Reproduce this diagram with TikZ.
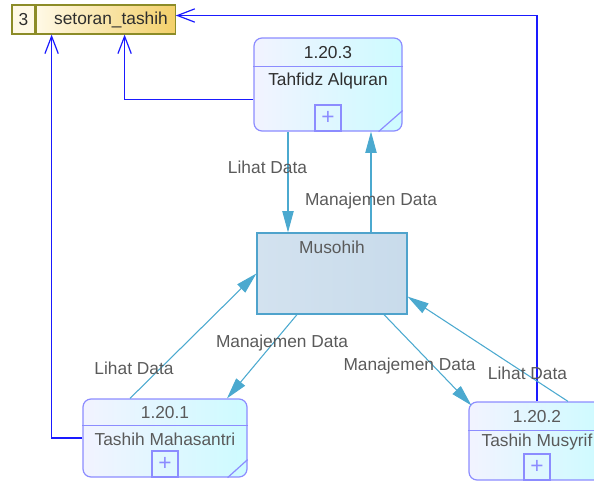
\documentclass[tikz,border=0pt]{standalone}
\usepackage{fontspec}
\setmainfont{Liberation Sans}
\usepackage{tikz}
\usepackage{xcolor}
\usetikzlibrary{arrows.meta,positioning,calc}
\definecolor{flow}{HTML}{1A1AFF}
\definecolor{dflow}{HTML}{4BA9CF}
\definecolor{procline}{HTML}{8C8CFF}
\definecolor{procA}{HTML}{F2F3FF}
\definecolor{procB}{HTML}{CDFBFF}
\definecolor{entline}{HTML}{4FA3CC}
\definecolor{entA}{HTML}{D3E2EF}
\definecolor{entB}{HTML}{C8DBEB}
\definecolor{storeline}{HTML}{8C8C28}
\definecolor{storeA}{HTML}{FFF9E6}
\definecolor{storeB}{HTML}{F3D06A}
\definecolor{ink}{HTML}{2E2E2E}
\definecolor{muted}{HTML}{5A5A5A}
\tikzset{
  proc/.style={draw=procline, left color=procA, right color=procB, rounded corners=6pt,
               line width=0.9pt, inner sep=0pt},
  procrule/.style={draw=procline, line width=0.9pt},
  plusbox/.style={draw=procline, line width=0.9pt, minimum width=19.5pt, minimum height=19.5pt,
                  inner sep=0pt, text=procline, font=\fontsize{17}{17}\selectfont},
  ent/.style={draw=entline, left color=entA, right color=entB, line width=0.9pt, inner sep=0pt},
  store/.style={draw=storeline, left color=storeA, right color=storeB, line width=0.9pt,
                inner sep=0pt, font=\fontsize{13}{15}\selectfont, text=ink},
  storeno/.style={draw=storeline, fill=storeA, line width=0.9pt,
                  inner sep=0pt, font=\fontsize{13}{15}\selectfont, text=ink},
  lbl/.style={font=\fontsize{13}{15}\selectfont, text=muted, inner sep=0pt},
  storeflow/.style={-{Straight Barb[length=13pt,width=10pt]}, draw=flow, line width=0.9pt},
  dataflow/.style={-{Triangle[length=16pt,width=8.5pt]}, draw=dflow, line width=0.8pt}
}

\begin{document}
\begin{tikzpicture}[x=0.75pt,y=-0.75pt]
        \useasboundingbox (0,0) rectangle (594,482);
        \clip (0,0) rectangle (594,482);

        % data store
        \node[storeno,minimum width=17.25pt,minimum height=21.75pt] (setoranno) at (23.5,19.5) {3};
        \node[store,minimum width=104.25pt,minimum height=21.75pt,right=0pt of setoranno] (setoran)
          {\hspace*{8pt}setoran\_tashih};

        % 1.20.3
        \node[proc,minimum width=111pt,minimum height=69.75pt] (tahfidz) at (328,84.5) {};
        \draw[procrule] ($(tahfidz.north west)+(0,29)$) -- ($(tahfidz.north east)+(0,29)$);
        \node[lbl,text=ink] (tahfidzid) at ($(tahfidz.north)+(0,15)$) {1.20.3};
        \node[lbl,text=ink] (tahfidzname) at ($(tahfidz.north)+(0,44)$) {Tahfidz Alquran};
        \node[plusbox,anchor=south] (tahfidzplus) at (tahfidz.south) {+};
        \draw[procrule] ($(tahfidz.south east)+(0,-21)$) -- ($(tahfidz.south east)+(-24,0)$);

        % entity
        \node[ent,minimum width=112.5pt,minimum height=60.75pt] (musohih) at (332,273.5) {};
        \node[lbl] (musohihname) at ($(musohih.north)+(0,15)$) {Musohih};

        % 1.20.1
        \node[proc,minimum width=123pt,minimum height=58.5pt] (mahasantri) at (165,438) {};
        \draw[procrule] ($(mahasantri.north west)+(0,27)$) -- ($(mahasantri.north east)+(0,27)$);
        \node[lbl] (mahasantriid) at ($(mahasantri.north)+(0,14)$) {1.20.1};
        \node[lbl] (mahasantriname) at ($(mahasantri.north)+(0,41)$) {Tashih Mahasantri};
        \node[plusbox,anchor=south] (mahasantriplus) at (mahasantri.south) {+};
        \draw[procrule] ($(mahasantri.south east)+(0,-18)$) -- ($(mahasantri.south east)+(-20,0)$);

        % 1.20.2
        \node[proc,minimum width=102pt,minimum height=58.5pt] (musyrif) at (537,441) {};
        \draw[procrule] ($(musyrif.north west)+(0,29)$) -- ($(musyrif.north east)+(0,29)$);
        \node[lbl] (musyrifid) at ($(musyrif.north)+(0,15)$) {1.20.2};
        \node[lbl] (musyrifname) at ($(musyrif.north)+(0,41)$) {Tashih Musyrif};
        \node[plusbox,anchor=south] (musyrifplus) at (musyrif.south) {+};

        % flows to the store
        \draw[storeflow] (musyrif.north) |- ($(setoran.east)+(0,-4)$);
        \draw[storeflow] (mahasantri.west) -| ($(setoran.south west)+(16,0)$);
        \draw[storeflow] ($(tahfidz.west)+(0,15)$) -| ($(setoran.south west)+(89,0)$);

        % data flows
        \draw[dataflow] ($(tahfidz.south)+(-40,0)$) coordinate (lihatA) -- (lihatA |- musohih.north);
        \draw[dataflow] ($(musohih.north)+(39,0)$) coordinate (kelolaA) -- (kelolaA |- tahfidz.south);
        \draw[dataflow] ($(mahasantri.north)+(-35,0)$) -- (musohih.west);
        \draw[dataflow] ($(musohih.south)+(-35,0)$) -- ($(mahasantri.north)+(62,0)$);
        \draw[dataflow] ($(musohih.south)+(52,0)$) -- ($(musyrif.north west)+(3,4)$);
        \draw[dataflow] ($(musyrif.north)+(31,0)$) -- ($(musohih.south east)+(0,-18)$);

        \node[lbl] (lihat1) at (267.5,167) {Lihat Data};
        \node[lbl] (kelola1) at (371,201) {Manajemen Data};
        \node[lbl] (lihat2) at (134,368) {Lihat Data};
        \node[lbl] (kelola2) at (282,343) {Manajemen Data};
        \node[lbl] (kelola3) at (409.5,366) {Manajemen Data};
        \node[lbl] (lihat3) at (527.5,373) {Lihat Data};
      \end{tikzpicture}
\end{document}
